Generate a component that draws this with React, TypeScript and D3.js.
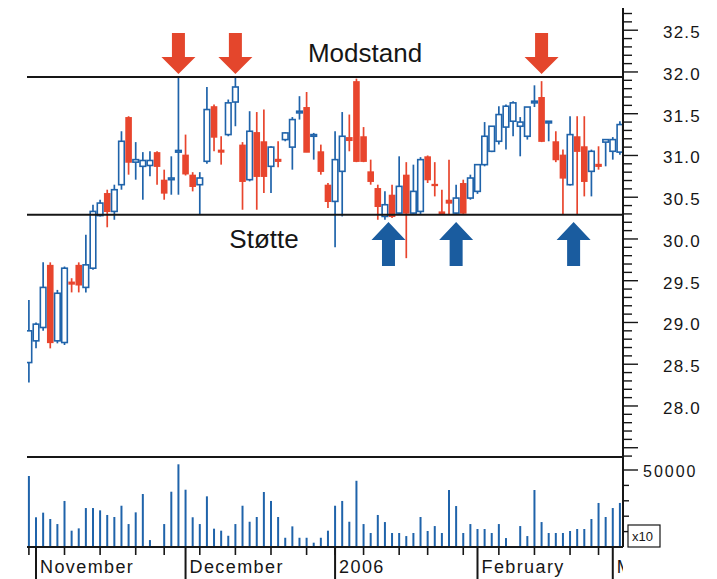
import React from "react";
import * as d3 from "d3";

const dates = [
  "2005-10-31",
  "2005-11-01","2005-11-02","2005-11-03","2005-11-04","2005-11-07","2005-11-08","2005-11-09","2005-11-10","2005-11-11",
  "2005-11-14","2005-11-15","2005-11-16","2005-11-17","2005-11-18","2005-11-21","2005-11-22","2005-11-23","2005-11-25",
  "2005-11-28","2005-11-29","2005-11-30",
  "2005-12-01","2005-12-02","2005-12-05","2005-12-06","2005-12-07","2005-12-08","2005-12-09","2005-12-12","2005-12-13",
  "2005-12-14","2005-12-15","2005-12-16","2005-12-19","2005-12-20","2005-12-21","2005-12-22","2005-12-23","2005-12-27",
  "2005-12-28","2005-12-29","2005-12-30",
  "2006-01-03","2006-01-04","2006-01-05","2006-01-06","2006-01-09","2006-01-10","2006-01-11","2006-01-12","2006-01-13",
  "2006-01-17","2006-01-18","2006-01-19","2006-01-20","2006-01-23","2006-01-24","2006-01-25","2006-01-26","2006-01-27",
  "2006-01-30","2006-01-31",
  "2006-02-01","2006-02-02","2006-02-03","2006-02-06","2006-02-07","2006-02-08","2006-02-09","2006-02-10","2006-02-13",
  "2006-02-14","2006-02-15","2006-02-16","2006-02-17","2006-02-21","2006-02-22","2006-02-23","2006-02-24","2006-02-27",
  "2006-02-28",
  "2006-03-01","2006-03-02",
];

const open = [
  28.52, 28.78, 28.94, 29.69, 28.78, 28.76, 29.49, 29.69, 29.42, 29.65,
  30.28, 30.55, 30.33, 30.65, 31.46, 30.92, 30.87, 30.88, 31.04, 30.71,
  30.71, 31.04, 31.01, 30.77, 30.65, 30.93, 31.59, 31.07, 31.25, 31.64,
  31.13, 30.71, 31.28, 31.17, 30.87, 30.96, 31.19, 31.10, 31.51, 31.58,
  31.23, 31.05, 30.65, 30.45, 30.81, 31.22, 31.89, 31.23, 30.81, 30.61,
  30.27, 30.53, 30.31, 30.77, 30.31, 30.33, 30.99, 30.66, 30.33, 30.47,
  30.31, 30.67, 30.49, 30.57, 30.89, 31.05, 31.17, 31.34, 31.41, 31.35,
  31.23, 31.63, 31.70, 31.39, 31.17, 31.01, 30.65, 31.23, 31.11, 30.81,
  30.90, 31.16, 31.05, 31.04,
];
const high = [
  29.27, 29.00, 29.72, 29.72, 29.39, 29.67, 29.53, 29.72, 30.05, 30.41,
  30.47, 30.59, 30.65, 31.29, 31.47, 31.16, 31.04, 31.05, 31.05, 30.83,
  30.99, 31.94, 31.25, 30.80, 30.80, 31.82, 31.61, 31.23, 31.67, 31.94,
  31.16, 31.53, 31.52, 31.55, 31.11, 31.17, 31.28, 31.46, 31.71, 31.76,
  31.27, 31.13, 30.67, 31.29, 31.52, 31.49, 31.92, 31.34, 30.95, 30.65,
  30.57, 30.65, 30.99, 30.92, 30.89, 30.98, 31.00, 30.92, 30.59, 30.95,
  30.65, 30.71, 30.77, 30.89, 31.40, 31.35, 31.59, 31.61, 31.65, 31.46,
  31.58, 31.84, 31.89, 31.41, 31.29, 31.07, 31.47, 31.47, 31.47, 31.07,
  31.11, 31.19, 31.22, 31.41,
];
const low = [
  28.28, 28.69, 28.90, 28.69, 28.75, 28.73, 29.36, 29.36, 29.36, 29.63,
  30.27, 30.14, 30.23, 30.59, 30.77, 30.71, 30.47, 30.75, 30.65, 30.47,
  30.53, 30.53, 30.76, 30.57, 30.29, 30.90, 31.05, 30.89, 31.23, 31.35,
  30.35, 30.69, 30.35, 30.55, 30.55, 30.86, 31.17, 30.83, 31.43, 31.04,
  30.95, 30.77, 30.37, 29.90, 30.27, 31.05, 30.92, 30.92, 30.65, 30.23,
  30.23, 30.25, 30.29, 29.77, 30.29, 30.30, 30.67, 30.51, 30.29, 30.30,
  30.30, 30.30, 30.47, 30.54, 30.87, 31.04, 31.13, 31.07, 31.23, 30.99,
  31.19, 31.58, 31.16, 31.17, 30.92, 30.29, 30.64, 30.29, 30.51, 30.51,
  30.83, 30.87, 30.95, 31.01,
];
const close = [
  28.90, 28.98, 29.42, 28.76, 29.35, 29.65, 29.46, 29.45, 29.69, 30.33,
  30.43, 30.33, 30.59, 31.17, 30.92, 30.95, 30.94, 30.94, 30.87, 30.55,
  30.73, 31.06, 30.78, 30.63, 30.73, 31.55, 31.22, 31.04, 31.63, 31.82,
  30.69, 31.29, 30.75, 30.75, 31.10, 30.93, 31.27, 31.43, 31.53, 31.04,
  31.25, 30.81, 30.45, 30.95, 31.23, 31.18, 30.93, 30.93, 30.69, 30.39,
  30.41, 30.27, 30.63, 30.31, 30.57, 30.95, 30.71, 30.64, 30.30, 30.43,
  30.49, 30.31, 30.73, 30.89, 31.23, 31.35, 31.49, 31.59, 31.63, 31.40,
  31.58, 31.65, 31.17, 31.41, 30.95, 30.73, 31.25, 31.05, 30.69, 31.05,
  30.87, 31.19, 31.19, 31.37,
];
const volume = [
  46100, 19300, 22300, 18200, 14900, 29900, 10600, 12100, 25300, 25300,
  23800, 20800, 19500, 26800, 14900, 22500, 34400, 4500, 0, 14900,
  35900, 53700, 37200, 19300, 14900, 32900, 11900, 10600, 7300, 14900,
  26800, 16400, 19500, 35700, 29900, 19500, 6000, 13400, 6000, 6000,
  2800, 6000, 10600, 26800, 29900, 16400, 43000, 14900, 9100, 20800,
  16200, 9100, 9100, 7100, 9100, 19500, 10400, 13600, 9100, 37000,
  26600, 9100, 14900, 11700, 11700, 9100, 14900, 5800, 0, 13600,
  7100, 37000, 16200, 9100, 9100, 9100, 10400, 11700, 11700, 18200,
  28600, 19500, 25300, 28600,
];

const monthKeys = ["2005-11", "2005-12", "2006-01", "2006-02", "2006-03"];
const monthLabels = ["November", "December", "2006", "February", "March"];

const resistanceLevel = 31.94;
const supportLevel = 30.29;
const resistanceLabel = "Modstand";
const supportLabel = "Støtte";
const resistanceArrows = [21, 29, 72];
const supportArrows = [50.5, 60, 76.5];

const volumeTickValues = [10000, 20000, 30000, 40000, 50000];
const volumeLabelValue = 50000;
const volumeMultiplier = "x10";

const BLUE = "#1f63aa";
const RED = "#e8452d";
const ARROW_RED = "#e4462c";
const ARROW_BLUE = "#1a5c9f";
const INK = "#161616";
const FONT = "'Liberation Sans', Arial, Helvetica, sans-serif";

export default function App() {
  const parse = d3.timeParse("%Y-%m-%d");
  const days = dates.map((d) => parse(d) as Date);
  const fmtMonth = d3.timeFormat("%Y-%m");

  const LEFT = 27;
  const AXIS_X = 623;
  const PRICE_TOP = 8;
  const PRICE_BOTTOM = 457;
  const VOL_BASE = 547;

  const x = d3.scaleLinear().domain([0, dates.length - 1]).range([28.9, 619.9]);
  const y = d3.scaleLinear().domain([27.389, 32.766]).range([PRICE_BOTTOM, PRICE_TOP]);
  const yv = d3.scaleLinear().domain([0, 50000]).range([VOL_BASE, 470]);

  const minorTicks = d3.range(274, 328).map((k) => k / 10);

  const weekStarts: number[] = [];
  const monthStarts: { i: number; label: string }[] = [];
  days.forEach((d, i) => {
    if (i === 0 || +d3.timeMonday.floor(d) !== +d3.timeMonday.floor(days[i - 1])) weekStarts.push(i);
    const mk = fmtMonth(d);
    if (i > 0 && mk !== fmtMonth(days[i - 1])) {
      const idx = monthKeys.indexOf(mk);
      if (idx >= 0) monthStarts.push({ i, label: monthLabels[idx] });
    }
  });

  const bodyW = 5.6;

  const downArrow = (cx: number) => {
    const p = d3.path();
    p.moveTo(cx - 6.5, 33);
    p.lineTo(cx + 6.5, 33);
    p.lineTo(cx + 6.5, 57);
    p.lineTo(cx + 17, 57);
    p.lineTo(cx, 74);
    p.lineTo(cx - 17, 57);
    p.lineTo(cx - 6.5, 57);
    p.closePath();
    return p.toString();
  };
  const upArrow = (cx: number) => {
    const p = d3.path();
    p.moveTo(cx, 222);
    p.lineTo(cx + 17, 240);
    p.lineTo(cx + 6.5, 240);
    p.lineTo(cx + 6.5, 266);
    p.lineTo(cx - 6.5, 266);
    p.lineTo(cx - 6.5, 240);
    p.lineTo(cx - 17, 240);
    p.closePath();
    return p.toString();
  };

  return (
    <svg
      width={717}
      height={579}
      viewBox="0 0 717 579"
      style={{ position: "absolute", left: 0, top: 0, background: "#fff" }}
    >
      <defs>
        <clipPath id="plotClip">
          <rect x={LEFT} y={PRICE_TOP} width={AXIS_X - LEFT} height={PRICE_BOTTOM - PRICE_TOP} />
        </clipPath>
        <clipPath id="axisClip">
          <rect x={0} y={VOL_BASE} width={AXIS_X} height={40} />
        </clipPath>
      </defs>
      <rect x={0} y={0} width={717} height={579} fill="#fff" />

      {/* candles */}
      <g clipPath="url(#plotClip)">
        {dates.map((d, i) => {
          const up = close[i] >= open[i];
          const c = up ? BLUE : RED;
          const cx = x(i);
          const yo = y(open[i]);
          const yc = y(close[i]);
          const top = Math.min(yo, yc);
          const h = Math.max(Math.abs(yo - yc), 1.6);
          return (
            <g key={d}>
              <line x1={cx} x2={cx} y1={y(high[i])} y2={y(low[i])} stroke={c} strokeWidth={1.7} />
              {up ? (
                <rect x={cx - bodyW / 2} y={top} width={bodyW} height={h} fill="#fff" stroke={c} strokeWidth={1.6} />
              ) : (
                <rect x={cx - 3.3} y={top} width={6.6} height={h + 0.6} fill={c} />
              )}
            </g>
          );
        })}
      </g>

      {/* support / resistance */}
      <line x1={LEFT} x2={AXIS_X} y1={y(resistanceLevel)} y2={y(resistanceLevel)} stroke={INK} strokeWidth={2} />
      <line x1={LEFT} x2={AXIS_X} y1={y(supportLevel)} y2={y(supportLevel)} stroke={INK} strokeWidth={2} />

      {resistanceArrows.map((a) => (
        <path key={"r" + a} d={downArrow(x(a))} fill={ARROW_RED} />
      ))}
      {supportArrows.map((a) => (
        <path key={"s" + a} d={upArrow(x(a))} fill={ARROW_BLUE} />
      ))}

      <text x={365} y={62} textAnchor="middle" fontFamily={FONT} fontSize={26} fill={INK}>
        {resistanceLabel}
      </text>
      <text x={264} y={248} textAnchor="middle" fontFamily={FONT} fontSize={26} fill={INK}>
        {supportLabel}
      </text>

      {/* panel separator */}
      <line x1={LEFT} x2={AXIS_X} y1={PRICE_BOTTOM} y2={PRICE_BOTTOM} stroke={INK} strokeWidth={2} />

      {/* volume */}
      {volume.map((v, i) =>
        v > 0 ? (
          <line key={"v" + i} x1={x(i)} x2={x(i)} y1={yv(0)} y2={yv(v)} stroke={BLUE} strokeWidth={2} />
        ) : null
      )}

      {/* right axis */}
      <line x1={AXIS_X} x2={AXIS_X} y1={PRICE_TOP} y2={VOL_BASE} stroke={INK} strokeWidth={2} />
      {minorTicks.map((t) => {
        const major = Math.round(t * 10) % 5 === 0;
        const ty = y(t);
        return (
          <g key={"t" + t}>
            <line x1={AXIS_X} x2={AXIS_X + (major ? 15 : 9)} y1={ty} y2={ty} stroke={INK} strokeWidth={1.4} />
            {major && t >= 28 ? (
              <text x={663} y={ty + 8} fontFamily={FONT} fontSize={17} letterSpacing={1.2} fill={INK}>
                {t.toFixed(1)}
              </text>
            ) : null}
          </g>
        );
      })}
      {volumeTickValues.map((t) => {
        const ty = yv(t);
        const major = t === volumeLabelValue;
        return (
          <g key={"vt" + t}>
            <line x1={AXIS_X} x2={AXIS_X + (major ? 15 : 6)} y1={ty} y2={ty} stroke={INK} strokeWidth={1.4} />
            {major ? (
              <text x={643} y={ty + 7} fontFamily={FONT} fontSize={16} letterSpacing={2} fill={INK}>
                {String(t)}
              </text>
            ) : null}
          </g>
        );
      })}
      <rect x={628} y={525} width={32} height={22} fill="#fff" stroke={INK} strokeWidth={1.2} />
      <text x={632} y={541} fontFamily={FONT} fontSize={13} fill={INK}>
        {volumeMultiplier}
      </text>

      {/* x axis */}
      <line x1={LEFT} x2={AXIS_X} y1={VOL_BASE} y2={VOL_BASE} stroke={INK} strokeWidth={2} />
      {weekStarts.map((i) => (
        <line key={"w" + i} x1={x(i)} x2={x(i)} y1={VOL_BASE} y2={VOL_BASE + 8} stroke={INK} strokeWidth={1.6} />
      ))}
      <g clipPath="url(#axisClip)">
        {monthStarts.map((m) => (
          <g key={"m" + m.i}>
            <line x1={x(m.i)} x2={x(m.i)} y1={VOL_BASE} y2={579} stroke={INK} strokeWidth={2} />
            <text x={x(m.i) + 4} y={573} fontFamily={FONT} fontSize={18} letterSpacing={1.4} fill={INK}>
              {m.label}
            </text>
          </g>
        ))}
      </g>
    </svg>
  );
}
